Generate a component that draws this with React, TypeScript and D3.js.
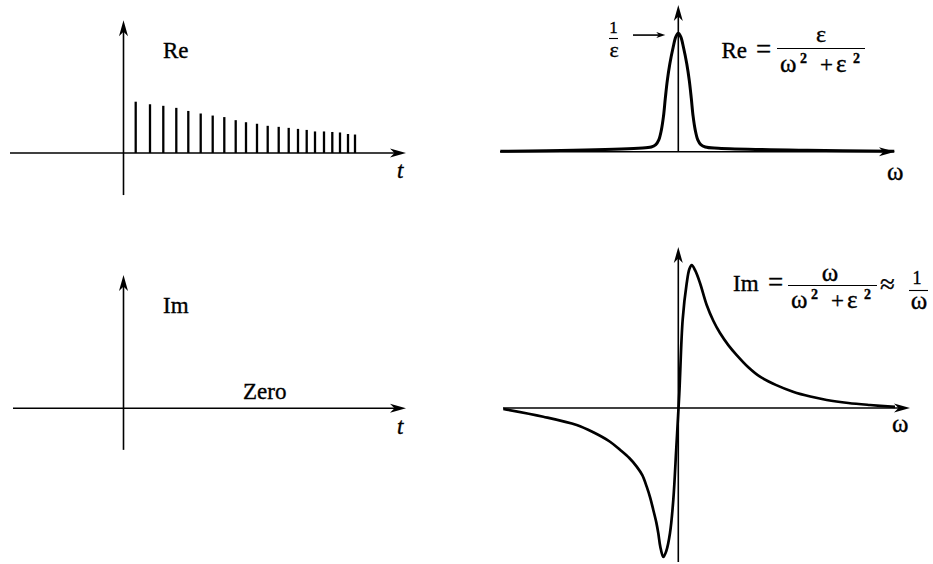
import React, { useEffect, useRef } from "react";
import * as d3 from "d3";

// top left: sampled pulse train (t in tick units, height relative to first pulse)
const spikeT = [1.22, 2.65, 3.98, 5.28, 6.48, 7.72, 8.92, 10.08, 11.22, 12.25, 13.35, 14.42, 15.52, 16.52, 17.45, 18.32, 19.15, 20.05, 20.88, 21.65, 22.45, 23.15];
const spikeRe = [1.0, 0.95, 0.92, 0.88, 0.82, 0.77, 0.73, 0.7, 0.64, 0.6, 0.57, 0.53, 0.51, 0.49, 0.47, 0.45, 0.42, 0.42, 0.41, 0.4, 0.37, 0.36];

const reOmega = [-17.8, -10.5, -4.0, -2.7, -2.25, -1.95, -1.7, -1.48, -1.3, -1.1, -0.85, -0.52, -0.25, 0, 0.25, 0.52, 0.85, 1.1, 1.3, 1.48, 1.7, 1.95, 2.25, 2.7, 4.0, 12.9, 21.6];
const reValue = [0.004, 0.012, 0.03, 0.04, 0.06, 0.1, 0.18, 0.3, 0.45, 0.6, 0.74, 0.88, 0.97, 1.0, 0.97, 0.88, 0.74, 0.6, 0.45, 0.3, 0.18, 0.1, 0.06, 0.04, 0.03, 0.012, 0.004];

// bottom right: imaginary part (peak = 1)
const imOmega = [-17.5, -13.5, -10.16, -8.5, -6.83, -5.8, -4.9, -4.16, -3.6, -3.16, -2.8, -2.5, -2.2, -2.0, -1.8, -1.5, -1.2, -0.83, -0.5, -0.2, 0.1, 0.44, 0.84, 1.1, 1.34, 1.7, 2.17, 2.84, 3.5, 4.17, 5.0, 5.84, 7.0, 8.17, 9.8, 11.47, 13.2, 14.84, 17.0, 19.17, 21.67];
const imValue = [-0.007, -0.061, -0.119, -0.17, -0.236, -0.294, -0.35, -0.41, -0.47, -0.55, -0.63, -0.713, -0.8, -0.876, -0.97, -1.042, -1.0, -0.874, -0.643, -0.28, 0.1, 0.62, 0.872, 0.97, 1.0, 0.96, 0.874, 0.72, 0.61, 0.524, 0.44, 0.37, 0.285, 0.219, 0.16, 0.114, 0.08, 0.056, 0.035, 0.021, 0.008];

const W = 933;
const H = 564;
const FONT = "'Liberation Serif', 'Times New Roman', serif";

const arrowRight = (x: number, y: number, len = 16, hw = 4.5) =>
	`M${x},${y}L${x - len},${y - hw}L${x - len * 0.72},${y}L${x - len},${y + hw}Z`;
const arrowUp = (x: number, y: number, len = 16, hw = 4.5) =>
	`M${x},${y}L${x - hw},${y + len}L${x},${y + len * 0.72}L${x + hw},${y + len}Z`;

function drawAxes(g: any, x: any, y: any, xExt: number[], yExt: number[]) {
	g.append("line")
		.attr("x1", x(xExt[0])).attr("x2", x(xExt[1]) - 6)
		.attr("y1", y(0)).attr("y2", y(0))
		.attr("stroke", "#000").attr("stroke-width", 1.6);
	g.append("path").attr("d", arrowRight(x(xExt[1]), y(0))).attr("fill", "#000");
	g.append("line")
		.attr("x1", x(0)).attr("x2", x(0))
		.attr("y1", y(yExt[0])).attr("y2", y(yExt[1]) + 6)
		.attr("stroke", "#000").attr("stroke-width", 1.6);
	g.append("path").attr("d", arrowUp(x(0), y(yExt[1]))).attr("fill", "#000");
}

function label(g: any, x: number, y: number, txt: string, size = 23, italic = false) {
	return g.append("text")
		.attr("x", x).attr("y", y)
		.attr("font-family", FONT).attr("font-size", size)
		.attr("font-style", italic ? "italic" : "normal")
		.attr("stroke", "#000").attr("stroke-width", 0.35)
		.text(txt);
}

function bar(g: any, x1: number, x2: number, y: number) {
	g.append("line").attr("x1", x1).attr("x2", x2).attr("y1", y).attr("y2", y)
		.attr("stroke", "#000").attr("stroke-width", 1.1);
}

// denominator "ω²  + ε²"
function denom(g: any, x: number, y: number) {
	label(g, x + 1, y, "ω", 25);
	label(g, x + 21, y - 9, "2", 14).attr("font-weight", "bold");
	label(g, x + 41, y, "+", 23);
	label(g, x + 57, y, "ε", 25);
	label(g, x + 74, y - 9, "2", 14).attr("font-weight", "bold");
}

export default function App() {
	const svgRef = useRef<SVGSVGElement>(null);

	useEffect(() => {
		const svg = d3.select(svgRef.current);
		svg.selectAll("*").remove();
		svg.append("rect").attr("width", W).attr("height", H).attr("fill", "#fff");

		// ---- top left: Re of the time signal
		const tX = d3.scaleLinear().domain([0, 1]).range([123.5, 133.5]);
		const tlY = d3.scaleLinear().domain([0, 1]).range([153, 101.7]);
		const tl = svg.append("g");
		drawAxes(tl, tX, tlY, [-11.35, 28.25], [-0.82, 2.59]);
		tl.selectAll("line.spike")
			.data(spikeT.map((t, i) => ({ t, v: spikeRe[i] })))
			.join("line")
			.attr("class", "spike")
			.attr("x1", (d) => tX(d.t)).attr("x2", (d) => tX(d.t))
			.attr("y1", tlY(0)).attr("y2", (d) => tlY(d.v))
			.attr("stroke", "#000").attr("stroke-width", 2.3);
		label(tl, 163, 58, "Re");
		label(tl, 397, 178, "t", 23, true);

		// ---- bottom left: Im of the time signal (zero)
		const blY = d3.scaleLinear().domain([0, 1]).range([408.3, 357]);
		const bl = svg.append("g");
		drawAxes(bl, tX, blY, [-11.05, 28.25], [-0.81, 2.6]);
		label(bl, 163, 313, "Im");
		label(bl, 243, 399, "Zero");
		label(bl, 397, 434, "t", 23, true);

		// ---- top right: Re spectrum
		const wX = d3.scaleLinear().domain([0, 1]).range([678.3, 688.3]);
		const reY = d3.scaleLinear().domain([0, 1]).range([151.7, 33.3]);
		const tr = svg.append("g");
		drawAxes(tr, wX, reY, [-17.83, 21.67], [0, 1.24]);
		const reLine = d3.line<number>()
			.x((d, i) => wX(reOmega[i]))
			.y((d) => reY(d))
			.curve(d3.curveCatmullRom.alpha(0.5));
		tr.append("path")
			.attr("d", reLine(reValue))
			.attr("fill", "none").attr("stroke", "#000").attr("stroke-width", 3);
		label(tr, 887, 180, "ω", 25);
		// 1/ε pointer
		label(tr, 613.5, 33, "1", 17).attr("text-anchor", "middle");
		bar(tr, 609, 618, 38.5);
		label(tr, 614, 57, "ε", 22).attr("text-anchor", "middle");
		const ax = wX(-1.3), ay = reY(0.985);
		tr.append("line").attr("x1", 633).attr("x2", ax - 5).attr("y1", ay).attr("y2", ay).attr("stroke", "#000").attr("stroke-width", 1.6);
		tr.append("path").attr("d", arrowRight(ax, ay, 9, 3)).attr("fill", "#000");
		// formula
		label(tr, 721.5, 57.5, "Re");
		label(tr, 756, 57.5, "=", 27);
		label(tr, 821, 42, "ε", 24).attr("text-anchor", "middle");
		bar(tr, 777, 865, 48.5);
		denom(tr, 779, 72);

		// ---- bottom right: Im spectrum
		const imY = d3.scaleLinear().domain([0, 1]).range([408, 265]);
		const br = svg.append("g");
		drawAxes(br, wX, imY, [-17.53, 23.17], [-1.077, 1.126]);
		const imLine = d3.line<number>()
			.x((d, i) => wX(imOmega[i]))
			.y((d) => imY(d))
			.curve(d3.curveCatmullRom.alpha(0.5));
		br.append("path")
			.attr("d", imLine(imValue))
			.attr("fill", "none").attr("stroke", "#000").attr("stroke-width", 2.7);
		label(br, 892, 432, "ω", 25);
		label(br, 733, 291, "Im");
		label(br, 768, 291, "=", 27);
		label(br, 830, 281, "ω", 25).attr("text-anchor", "middle");
		bar(br, 788, 877, 285.5);
		denom(br, 790, 308);
		label(br, 880, 293, "≈", 27);
		label(br, 917, 284, "1", 18).attr("text-anchor", "middle");
		bar(br, 909, 928, 290.5);
		label(br, 919, 309, "ω", 25).attr("text-anchor", "middle");
	}, []);

	return (
		<svg
			ref={svgRef}
			width={W}
			height={H}
			style={{ position: "absolute", left: 0, top: 0, display: "block" }}
		/>
	);
}
